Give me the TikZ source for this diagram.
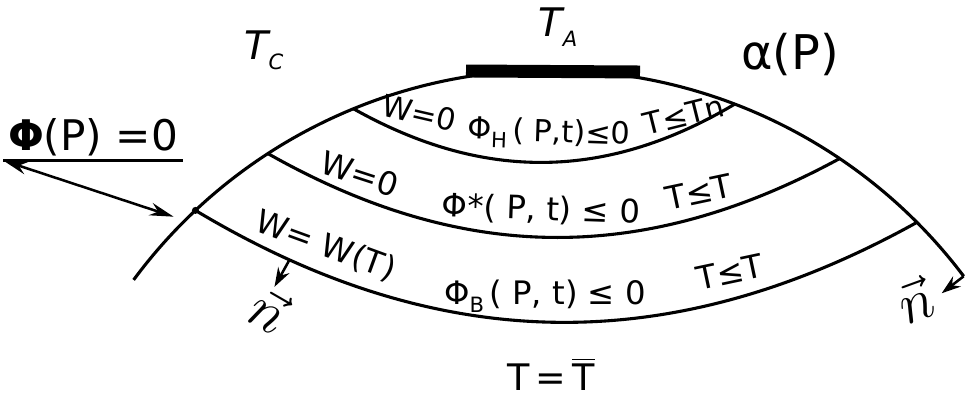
\documentclass[tikz,border=0pt]{standalone}
\usepackage{fontspec}
\setmainfont{DejaVu Sans}
\usetikzlibrary{arrows.meta, calc}
\newcommand{\lowidx}[1]{\raisebox{-0.45ex}{\fontsize{7.5}{8}\selectfont #1}}

\begin{document}
\begin{tikzpicture}[
    x=0.0125cm, y=0.0125cm,
    curve/.style={line width=1.1pt},
    lbl/.style={font=\fontsize{11.5}{13}\selectfont, inner sep=0pt},
    toplbl/.style={lbl, font=\fontsize{10.8}{12}\selectfont},
    narr/.style={-{Stealth[length=2.4mm, width=1.6mm]}, line width=0.9pt},
]
    \useasboundingbox (0,0) rectangle (971,398);
    \coordinate (O) at (550,-190);

    % outer boundary alpha(P)
    \coordinate (outL) at ($(O)+(143.5:518)$);
    \coordinate (outR) at ($(O)+(37:518)$);
    \draw[curve] (outL) arc[start angle=143.5, end angle=37, radius=518];
    \draw[line width=4.6pt] (466,327) -- (640,326);

    % layer boundaries
    \coordinate (aL) at ($(O)+(112.3:518)$);
    \coordinate (aR) at ($(O)+(69.1:518)$);
    \coordinate (bL) at ($(O)+(123:518)$);
    \coordinate (bR) at ($(O)+(56:518)$);
    \coordinate (cL) at ($(O)+(133.2:518)$);
    \coordinate (cR) at ($(O)+(44.9:518)$);
    \draw[curve] (aL) to[bend right=30] (aR);
    \draw[curve] (bL) to[bend right=29] (bR);
    \draw[curve] (cL) to[bend right=30] coordinate[pos=0.13] (cn) (cR);
    \fill (cL) circle[radius=3.5];

    % top labels
    \node[lbl, font=\fontsize{14}{16}\selectfont\itshape] (tc) at (264,348) {T\lowidx{C}};
    \node[lbl, font=\fontsize{14}{16}\selectfont\itshape] (ta) at (558,371) {T\lowidx{A}};
    \node[lbl, font=\fontsize{17}{19}\selectfont] (alpha) at (790,343) {α(P)};
    \node[lbl, font=\fontsize{13}{15}\selectfont] (tbar) at (551,24) {T\,=\,$\overline{\mbox{T}}$};

    % layer texts
    \node[toplbl, rotate=-13] (w1) at (419,285) {W=0};
    \node[toplbl, rotate=-2] (phih) at (549,264) {Φ\lowidx{H}\,( P,t)≤0};
    \node[toplbl, rotate=14] (t1) at (684,283) {T≤Tn};
    \node[lbl, rotate=-18] (w2) at (360,224) {W=0};
    \node[lbl, rotate=-2] (phis) at (541,188) {Φ*( P, t) ≤ 0};
    \node[lbl, rotate=12] (t2) at (699,206) {T≤T};
    \node[lbl, rotate=-20] (w3) at (326,152) {W= W(T)};
    \node[lbl] (phib) at (545,102) {Φ\lowidx{B}\,( P, t) ≤ 0};
    \node[lbl, rotate=12] (t3) at (730,126) {T≤T};

    % boundary condition Phi(P)=0
    \node[lbl, font=\fontsize{15}{17}\selectfont, minimum width=2cm, inner sep=1.5pt] (phi) at (93,261) {\textbf{Φ}(P) =0};
    \draw[line width=1.1pt] (phi.south west) -- (phi.south east);
    \coordinate (phiP) at ($(O)+(134.8:518)$);
    \draw[{Stealth[length=3mm, width=1.6mm]}-{Stealth[length=3mm, width=1.6mm]}, line width=0.9pt, shorten >=0.15cm] (phi.south west) -- (phiP);

    % normals
    \coordinate (nL) at ($(cn)+(-15,-27)$);
    \draw[narr] (cn) -- (nL);
    \node[lbl, font=\fontsize{20}{22}\selectfont, rotate=-30] (nlbl) at (270,88) {$\vec{n}$};
    \coordinate (nR) at ($(outR)+(-22,-17)$);
    \draw[narr] (outR) -- (nR);
    \node[lbl, font=\fontsize{20}{22}\selectfont, rotate=20] (nrbl) at (915,98) {$\vec{n}$};
\end{tikzpicture}
\end{document}
